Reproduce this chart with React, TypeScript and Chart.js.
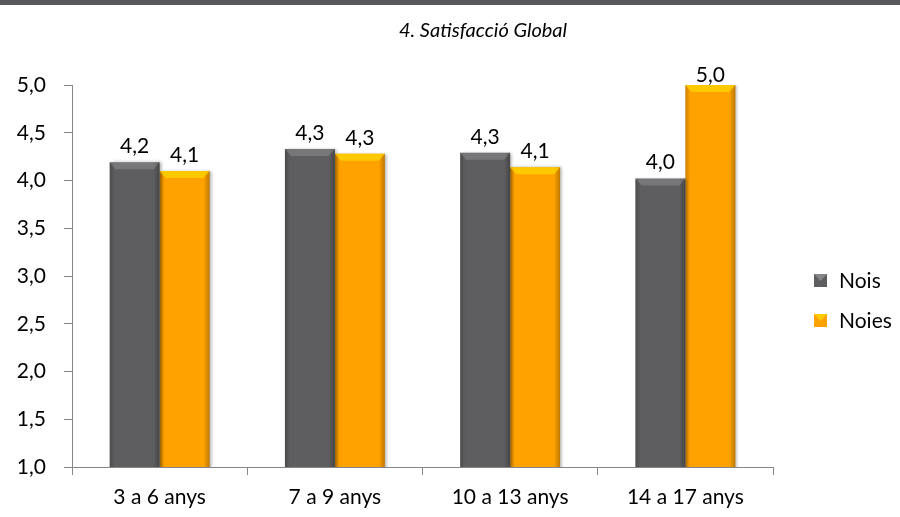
import React, { useEffect, useRef } from "react";
import { Chart, registerables } from "chart.js";

Chart.register(...registerables);

const title = "4. Satisfacció Global";
const categories = ["3 a 6 anys", "7 a 9 anys", "10 a 13 anys", "14 a 17 anys"];
const seriesNames = ["Nois", "Noies"];
const noisValues = [4.19, 4.33, 4.29, 4.02];
const noiesValues = [4.1, 4.28, 4.14, 5.0];
const yMin = 1.0;
const yMax = 5.0;
const yStep = 0.5;

const FONT = "Lato, 'Open Sans', sans-serif";
const FS = 21;
const grayColor = "#5e5e60";
const orangeColor = "#ffa200";
const fmt = (v: number) => v.toFixed(1).replace(".", ",");

const decorPlugin = {
  id: "decor",
  beforeDraw(chart: any) {
    const ctx = chart.ctx;
    ctx.save();
    ctx.fillStyle = "#ffffff";
    ctx.fillRect(0, 0, chart.width, chart.height);
    ctx.fillStyle = "#58585a";
    ctx.fillRect(0, 0, chart.width, 5);
    ctx.fillStyle = "#000";
    ctx.font = `italic 20px ${FONT}`;
    ctx.textAlign = "center";
    ctx.textBaseline = "middle";
    ctx.fillText(title, 483, 31);
    ctx.restore();
  },
  beforeDatasetsDraw(chart: any) {
    const ctx = chart.ctx;
    ctx.save();
    ctx.shadowColor = "rgba(0,0,0,0.3)";
    ctx.shadowBlur = 3;
    ctx.shadowOffsetX = 2;
    ctx.shadowOffsetY = 0;
  },
  afterDatasetsDraw(chart: any) {
    const ctx = chart.ctx;
    ctx.restore();
    ctx.save();
    const area = chart.chartArea;
    chart.data.datasets.forEach((ds: any, di: number) => {
      const meta = chart.getDatasetMeta(di);
      meta.data.forEach((el: any, i: number) => {
        const w = el.width;
        const left = el.x - w / 2;
        const right = el.x + w / 2;
        const top = el.y;
        const bottom = Math.min(el.base, area.bottom);
        const g = ctx.createLinearGradient(left, 0, right, 0);
        g.addColorStop(0, "rgba(0,0,0,0.2)");
        g.addColorStop(0.1, "rgba(0,0,0,0)");
        g.addColorStop(0.88, "rgba(0,0,0,0)");
        g.addColorStop(1, "rgba(0,0,0,0.26)");
        ctx.fillStyle = g;
        ctx.fillRect(left, top, w, bottom - top);
        ctx.beginPath();
        ctx.moveTo(left, top);
        ctx.lineTo(right, top);
        ctx.lineTo(right - 6, top + 7);
        ctx.lineTo(left + 6, top + 7);
        ctx.closePath();
        ctx.fillStyle = di === 0 ? "rgba(255,255,255,0.16)" : "rgba(255,214,0,0.75)";
        ctx.fill();
        const v = ds.data[i];
        ctx.fillStyle = "#000";
        ctx.font = `${FS}px ${FONT}`;
        ctx.textAlign = "center";
        ctx.textBaseline = "middle";
        const ly = Math.max(top - 16, area.top - 10);
        ctx.fillText(fmt(v), el.x, ly);
      });
    });
    const colors = [grayColor, orangeColor];
    const lx = area.right + 41;
    const ys = [281, 321];
    seriesNames.forEach((name, i) => {
      const y = ys[i];
      ctx.fillStyle = colors[i];
      ctx.fillRect(lx, y - 7, 13, 13);
      ctx.beginPath();
      ctx.moveTo(lx, y - 7);
      ctx.lineTo(lx + 13, y - 7);
      ctx.lineTo(lx + 6.5, y);
      ctx.closePath();
      ctx.fillStyle = i === 0 ? "rgba(255,255,255,0.25)" : "rgba(255,214,0,0.8)";
      ctx.fill();
      ctx.fillStyle = "#000";
      ctx.font = `${FS}px ${FONT}`;
      ctx.textAlign = "left";
      ctx.textBaseline = "middle";
      ctx.fillText(name, lx + 25, y);
    });
    ctx.restore();
  },
};

export default function App() {
  const ref = useRef<HTMLCanvasElement>(null);
  useEffect(() => {
    if (!ref.current) return;
    const chart = new Chart(ref.current, {
      type: "bar",
      data: {
        labels: categories,
        datasets: [
          { label: seriesNames[0], data: noisValues, backgroundColor: grayColor },
          { label: seriesNames[1], data: noiesValues, backgroundColor: orangeColor },
        ],
      },
      options: {
        animation: false,
        responsive: false,
        devicePixelRatio: 1,
        layout: { padding: { top: 85, right: 127, bottom: 0, left: 0 } },
        plugins: { legend: { display: false }, tooltip: { enabled: false }, title: { display: false } },
        datasets: { bar: { categoryPercentage: 0.57, barPercentage: 1.0 } },
        scales: {
          x: {
            offset: true,
            grid: { offset: true, drawOnChartArea: false, tickLength: 8, color: "#868686" },
            border: { color: "#868686", width: 1 },
            ticks: { color: "#000", font: { family: FONT, size: FS }, padding: 10 },
            afterFit: (s: any) => { s.height = 50; },
          },
          y: {
            min: yMin,
            max: yMax,
            grid: { drawOnChartArea: false, tickLength: 8, color: "#868686" },
            border: { color: "#868686", width: 1 },
            ticks: {
              stepSize: yStep,
              color: "#000",
              font: { family: FONT, size: FS },
              padding: 18,
              callback: (v: any) => fmt(Number(v)),
            },
            afterFit: (s: any) => { s.width = 72; },
          },
        },
      },
      plugins: [decorPlugin],
    });
    return () => chart.destroy();
  }, []);
  return (
    <div style={{ position: "fixed", left: 0, top: 0, width: 900, height: 517, background: "#fff" }}>
      <canvas ref={ref} width={900} height={517} style={{ width: 900, height: 517 }} />
    </div>
  );
}
